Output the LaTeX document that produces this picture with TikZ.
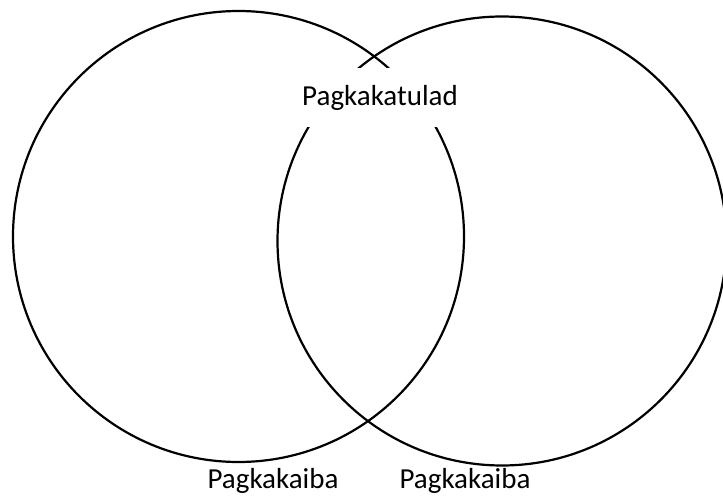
\documentclass[tikz,border=0pt]{standalone}
\usepackage{fontspec}
\setmainfont{Carlito}
\begin{document}
\begin{tikzpicture}[x=0.5pt,y=-0.5pt,
  ring/.style={draw=black,line width=1.1pt},
  lbl/.style={font=\fontsize{14.5}{17}\selectfont,inner sep=0pt},
  mask/.style={fill=white,draw=none,minimum width=85pt,minimum height=29.5pt,inner sep=0pt}]
\useasboundingbox (0,0) rectangle (723,496);
\begin{scope}
\clip (0,0) rectangle (723,496);
\node[ring,circle,minimum size=225.5pt,inner sep=0pt] (L) at (238.5,236.5) {};
\node[ring,circle,minimum size=224.5pt,inner sep=0pt] (R) at (502,241) {};
\end{scope}
\node[mask] (m) at (380,97.5) {};
\node[lbl] (sim) at (380,98) {Pagkakatulad};
\node[lbl] (d1) at (273,481) {Pagkakaiba};
\node[lbl] (d2) at (465,481) {Pagkakaiba};
\end{tikzpicture}
\end{document}
